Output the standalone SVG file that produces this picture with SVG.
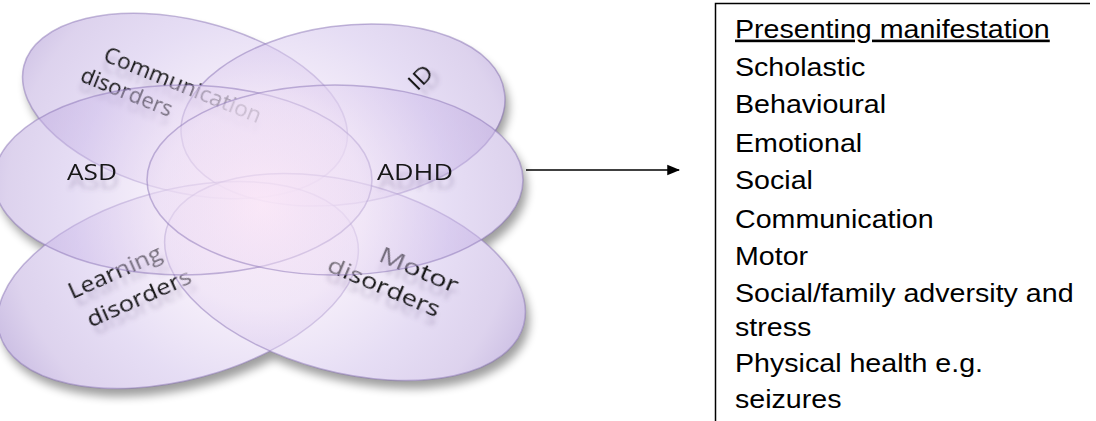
<svg xmlns="http://www.w3.org/2000/svg" width="1096" height="421" viewBox="0 0 1096 421">
  <style>
    .lbl { font-family: "Open Sans", "DejaVu Sans", sans-serif; font-size: 21px; fill: #141414; text-anchor: middle; }
    .petal { fill: url(#gC); stroke: #8a74b5; stroke-opacity: 0.5; stroke-width: 1.5; }
    .list { font-family: "Liberation Sans", Arial, sans-serif; font-size: 26px; fill: #000; }
    .conn { stroke: #000; stroke-width: 1.6; fill: none; }
  </style>
  <defs>
    <radialGradient id="gC" gradientUnits="userSpaceOnUse" cx="262" cy="205" r="290">
      <stop offset="0" stop-color="#f9e6f7" stop-opacity="0.5"/>
      <stop offset="0.35" stop-color="#ebdcf4" stop-opacity="0.45"/>
      <stop offset="0.65" stop-color="#cdbcea" stop-opacity="0.5"/>
      <stop offset="0.88" stop-color="#bba6dc" stop-opacity="0.5"/>
      <stop offset="1" stop-color="#a790d0" stop-opacity="0.55"/>
    </radialGradient>
    <filter id="soft" x="-20%" y="-20%" width="140%" height="140%">
      <feGaussianBlur stdDeviation="5"/>
    </filter>
    <filter id="tsh" x="-20%" y="-50%" width="140%" height="250%">
      <feDropShadow dx="2" dy="9" stdDeviation="2" flood-color="#5e4d7a" flood-opacity="0.3"/>
    </filter>
    <marker id="arr" viewBox="0 0 12 12" refX="11" refY="6" markerWidth="8" markerHeight="8" markerUnits="strokeWidth" orient="auto">
      <path d="M0,1 L12,6 L0,11 Z" fill="#000"/>
    </marker>
  </defs>

  <!-- drop shadow and opaque underlay of the petal cluster -->
  <g id="cluster-shadow" opacity="0.38" filter="url(#soft)" transform="translate(4,8)" fill="#000">
    <ellipse rx="166" ry="86" transform="translate(185,106) rotate(14)"/>
    <ellipse rx="163" ry="88" transform="translate(343,115) rotate(-8)"/>
    <ellipse rx="185" ry="95" transform="translate(178,285) rotate(-15)"/>
    <ellipse rx="185" ry="95" transform="translate(345,277) rotate(15)"/>
    <ellipse rx="189" ry="95" transform="translate(183,180)"/>
    <ellipse rx="188" ry="95" transform="translate(335,180)"/>
  </g>
  <g id="cluster-underlay" fill="#fff">
    <ellipse rx="166" ry="86" transform="translate(185,106) rotate(14)"/>
    <ellipse rx="163" ry="88" transform="translate(343,115) rotate(-8)"/>
    <ellipse rx="185" ry="95" transform="translate(178,285) rotate(-15)"/>
    <ellipse rx="185" ry="95" transform="translate(345,277) rotate(15)"/>
    <ellipse rx="189" ry="95" transform="translate(183,180)"/>
    <ellipse rx="188" ry="95" transform="translate(335,180)"/>
  </g>

  <g id="node-communication">
    <path class="petal" d="M23.9,65.8 A166,86 14 1 1 346.1,146.2 A166,86 14 1 1 23.9,65.8 Z"/>
    <text class="lbl" fill="#2a2a2a" filter="url(#tsh)" transform="translate(180,92) rotate(22)" textLength="168" lengthAdjust="spacingAndGlyphs">Communication</text>
    <text class="lbl" filter="url(#tsh)" transform="translate(124,99) rotate(22)" textLength="97" lengthAdjust="spacingAndGlyphs">disorders</text>
  </g>
  <g id="node-id">
    <path class="petal" d="M181.6,137.7 A163,88 -8 1 1 504.4,92.3 A163,88 -8 1 1 181.6,137.7 Z"/>
    <text class="lbl" filter="url(#tsh)" transform="translate(426,83) rotate(-45)" textLength="25" lengthAdjust="spacingAndGlyphs">ID</text>
  </g>
  <g id="node-learning">
    <path class="petal" d="M-0.7,332.9 A185,95 -15 1 1 356.7,237.1 A185,95 -15 1 1 -0.7,332.9 Z"/>
    <text class="lbl" filter="url(#tsh)" transform="translate(118,279) rotate(-24)" textLength="100" lengthAdjust="spacingAndGlyphs">Learning</text>
    <text class="lbl" filter="url(#tsh)" transform="translate(142,305) rotate(-24)" textLength="112" lengthAdjust="spacingAndGlyphs">disorders</text>
  </g>
  <g id="node-motor">
    <path class="petal" d="M166.3,229.1 A185,95 15 1 1 523.7,324.9 A185,95 15 1 1 166.3,229.1 Z"/>
    <text class="lbl" filter="url(#tsh)" transform="translate(416,277) rotate(23)" textLength="84" lengthAdjust="spacingAndGlyphs">Motor</text>
    <text class="lbl" filter="url(#tsh)" transform="translate(381,294) rotate(23)" textLength="120" lengthAdjust="spacingAndGlyphs">disorders</text>
  </g>
  <g id="node-asd">
    <path class="petal" d="M-6,180 A189,95 0 1 1 372,180 A189,95 0 1 1 -6,180 Z"/>
    <text class="lbl" filter="url(#tsh)" x="92" y="180" textLength="50" lengthAdjust="spacingAndGlyphs">ASD</text>
  </g>
  <g id="node-adhd">
    <path class="petal" d="M147,180 A188,95 0 1 1 523,180 A188,95 0 1 1 147,180 Z"/>
    <text class="lbl" filter="url(#tsh)" x="415" y="180" textLength="76" lengthAdjust="spacingAndGlyphs">ADHD</text>
  </g>

  <g id="connectors">
    <line class="conn" x1="526" y1="170" x2="679" y2="170" marker-end="url(#arr)"/>
  </g>

  <g id="node-manifestation">
    <path d="M715.5,421 V3.5 H1090" fill="none" stroke="#000" stroke-width="1.5"/>
    <g transform="translate(735,0) scale(1.1,1)">
      <text class="list" x="0" y="37.7" text-decoration="underline">Presenting manifestation</text>
      <text class="list" x="0" y="76">Scholastic</text>
      <text class="list" x="0" y="113.3">Behavioural</text>
      <text class="list" x="0" y="151.7">Emotional</text>
      <text class="list" x="0" y="189.3">Social</text>
      <text class="list" x="0" y="227.7">Communication</text>
      <text class="list" x="0" y="265">Motor</text>
      <text class="list" x="0" y="301.7">Social/family adversity and</text>
      <text class="list" x="0" y="336">stress</text>
      <text class="list" x="0" y="371.7">Physical health e.g.</text>
      <text class="list" x="0" y="408.3">seizures</text>
    </g>
  </g>
</svg>
